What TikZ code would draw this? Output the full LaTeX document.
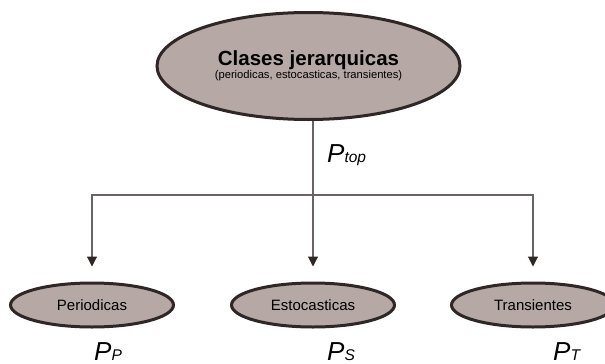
\documentclass[tikz,border=0pt]{standalone}
\usepackage{fontspec}
\setmainfont{Liberation Sans}
\usetikzlibrary{shapes.geometric,arrows.meta}
\definecolor{claseFill}{HTML}{B5A8A5}
\definecolor{claseEdge}{HTML}{2F2626}
\definecolor{connGray}{HTML}{6A6263}
\newcommand{\probl}[1]{{\fontsize{26}{26}\selectfont\itshape P}{\fontsize{15.5}{15.5}\selectfont\itshape\raisebox{-0.5pt}{#1}}}
\tikzset{
  clase/.style={ellipse,draw=claseEdge,fill=claseFill,line width=3pt,inner sep=0pt},
  conn/.style={draw=connGray,line width=1.1pt},
  flecha/.style={conn,-{Triangle[length=10pt,width=10pt,color=claseEdge]},shorten >=15pt},
  etiq/.style={anchor=base west,inner sep=0pt}
}
\begin{document}
\begin{tikzpicture}[x=1pt,y=-1pt]
  \useasboundingbox[fill=white] (0,0) rectangle (605,364);
  \node[clase,minimum width=303pt,minimum height=107pt,align=center] (top) at (308.5,66)
    {{\fontsize{20.5}{22}\selectfont\bfseries Clases jerarquicas}\\[0pt]
     {\fontsize{11.2}{12}\selectfont (periodicas, estocasticas, transientes)}};
  \node[clase,minimum width=163pt,minimum height=44pt] (peri) at (92,305) {\fontsize{15}{15}\selectfont Periodicas};
  \node[clase,minimum width=163pt,minimum height=44pt] (esto) at (313,305) {\fontsize{15}{15}\selectfont Estocasticas};
  \node[clase,minimum width=163pt,minimum height=44pt] (tran) at (533,305) {\fontsize{15}{15}\selectfont Transientes};
  \coordinate (split) at (313,195);
  \draw[conn] (split |- top.south) -- (split);
  \draw[flecha] (split) -| (peri.north);
  \draw[flecha] (split) -- (esto.north);
  \draw[flecha] (split) -| (tran.north);
  \node[etiq] (ptop) at (327,162) {\probl{top}};
  \node[etiq] (pp) at (94,360) {\probl{P}};
  \node[etiq] (ps) at (327,360) {\probl{S}};
  \node[etiq] (pt) at (553,360) {\probl{T}};
\end{tikzpicture}
\end{document}
